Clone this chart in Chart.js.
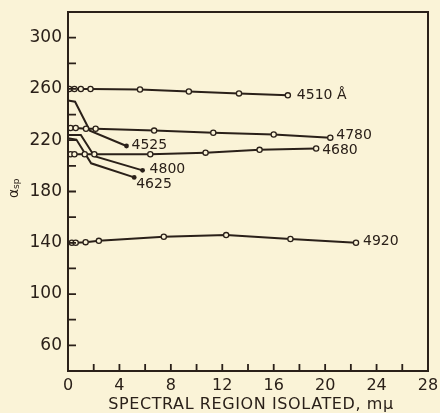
<!DOCTYPE html>
<html>
<head>
<meta charset="utf-8">
<script src="https://cdn.jsdelivr.net/npm/chart.js@4"></script>
<style>
  html, body { margin: 0; padding: 0; background: #faf3d7; }
</style>
</head>
<body>
<canvas id="myChart" width="440" height="413"></canvas>
<script>
// values (x = spectral region isolated, mμ; y = alpha sp)
const x4510 = [0.1, 0.5, 1.0, 1.75, 5.6, 9.4, 13.3, 17.1];
const y4510 = [260, 260, 260, 260, 259.5, 258, 256.5, 255];
const x4780 = [0.2, 0.6, 1.4, 2.15, 6.7, 11.3, 16.0, 20.4];
const y4780 = [229.5, 229.5, 229, 229, 227.5, 225.8, 224.5, 222];
const x4680 = [0.2, 0.5, 1.3, 2.05, 6.4, 10.7, 14.9, 19.3];
const y4680 = [209, 209, 209, 209, 209, 210.3, 212.5, 213.5];
const x4525 = [0, 0.55, 1.7, 4.55];
const y4525 = [251, 250, 227.5, 215.5];
const x4800 = [0, 1.0, 2.05, 5.8];
const y4800 = [224, 224, 207.5, 196.5];
const x4625 = [0, 0.65, 1.8, 5.15];
const y4625 = [221.5, 220.5, 202, 191];
const x4920 = [0.3, 0.6, 1.37, 2.4, 7.45, 12.3, 17.3, 22.4];
const y4920 = [140, 140, 140.5, 141.5, 144.7, 146, 143, 140];

const seriesNames = ["4510 Å", "4780", "4680", "4525", "4800", "4625", "4920"];
const labelOffsets = [[9, 0], [6, -2], [6, 2], [5, -1], [7, -1], [2, 7], [7, -1]];

const ink = "#2a2019";
const paper = "#faf3d7";

function pts(xs, ys) {
  return xs.map((x, i) => ({ x: x, y: ys[i] }));
}

function openSeries(name, xs, ys) {
  return {
    label: name,
    data: pts(xs, ys),
    borderColor: ink,
    backgroundColor: paper,
    borderWidth: 2,
    pointRadius: 2.6,
    pointBorderWidth: 1.3,
    pointBorderColor: ink,
    pointBackgroundColor: paper,
    tension: 0,
  };
}

function dropSeries(name, xs, ys) {
  return {
    label: name,
    data: pts(xs, ys),
    borderColor: ink,
    borderWidth: 2,
    pointRadius: xs.map((_, i) => (i === xs.length - 1 ? 2.4 : 0)),
    pointBorderWidth: 0,
    pointBackgroundColor: ink,
    tension: 0,
  };
}

const data = {
  datasets: [
    openSeries(seriesNames[0], x4510, y4510),
    openSeries(seriesNames[1], x4780, y4780),
    openSeries(seriesNames[2], x4680, y4680),
    dropSeries(seriesNames[3], x4525, y4525),
    dropSeries(seriesNames[4], x4800, y4800),
    dropSeries(seriesNames[5], x4625, y4625),
    openSeries(seriesNames[6], x4920, y4920),
  ],
};

const decor = {
  id: "decor",
  beforeDraw(chart) {
    const ctx = chart.ctx;
    ctx.save();
    ctx.fillStyle = paper;
    ctx.fillRect(0, 0, chart.width, chart.height);
    ctx.restore();
  },
  afterDraw(chart) {
    const ctx = chart.ctx;
    const a = chart.chartArea;
    const xs = chart.scales.x;
    const ys = chart.scales.y;
    ctx.save();
    ctx.strokeStyle = ink;
    ctx.lineWidth = 2;
    ctx.strokeRect(a.left, a.top, a.right - a.left, a.bottom - a.top);

    // inner tick marks
    ctx.lineWidth = 1.8;
    ctx.beginPath();
    ys.ticks.forEach((t) => {
      if (t.value <= ys.min || t.value >= ys.max) return;
      const py = ys.getPixelForValue(t.value);
      ctx.moveTo(a.left, py);
      ctx.lineTo(a.left + 8, py);
    });
    xs.ticks.forEach((t) => {
      if (t.value <= xs.min || t.value >= xs.max) return;
      const px = xs.getPixelForValue(t.value);
      ctx.moveTo(px, a.bottom);
      ctx.lineTo(px, a.bottom - 7);
    });
    ctx.stroke();

    // curve labels
    ctx.fillStyle = ink;
    ctx.font = "14px 'DejaVu Sans'";
    ctx.textBaseline = "middle";
    ctx.textAlign = "left";
    chart.data.datasets.forEach((ds, i) => {
      const last = ds.data[ds.data.length - 1];
      const px = xs.getPixelForValue(last.x) + labelOffsets[i][0];
      const py = ys.getPixelForValue(last.y) + labelOffsets[i][1];
      ctx.fillText(seriesNames[i], px, py);
    });

    // x title
    ctx.font = "16px 'DejaVu Sans'";
    ctx.letterSpacing = "0.6px";
    ctx.textAlign = "center";
    ctx.fillText("SPECTRAL REGION ISOLATED, mμ", (a.left + a.right) / 2 + 3, 405);
    ctx.letterSpacing = "0px";

    // y title: alpha with subscript sp, rotated
    ctx.translate(14, 198);
    ctx.rotate(-Math.PI / 2);
    ctx.textAlign = "left";
    ctx.font = "14px 'DejaVu Sans'";
    ctx.fillText("α", 0, 0);
    ctx.font = "9px 'DejaVu Sans'";
    ctx.fillText("sp", 9, 3);
    ctx.restore();
  },
};

const config = {
  type: "line",
  data: data,
  options: {
    responsive: false,
    animation: false,
    layout: { padding: { top: 12, right: 12, left: 0, bottom: 0 } },
    plugins: { legend: { display: false }, tooltip: { enabled: false } },
    scales: {
      x: {
        type: "linear",
        min: 0,
        max: 28,
        grid: { display: false, drawTicks: false },
        border: { display: false },
        ticks: {
          stepSize: 2,
          autoSkip: false,
          maxRotation: 0,
          padding: 5,
          color: ink,
          font: { family: "DejaVu Sans", size: 16 },
          callback: (v) => (v % 4 === 0 ? v : ""),
        },
        afterFit: (s) => {
          s.height = 42;
          s.paddingLeft = 0;
          s.paddingRight = 0;
        },
      },
      y: {
        type: "linear",
        min: 40,
        max: 320,
        grid: { display: false, drawTicks: false },
        border: { display: false },
        ticks: {
          stepSize: 20,
          autoSkip: false,
          padding: 6,
          color: ink,
          font: { family: "DejaVu Sans", size: 17 },
          callback: (v) => ((v - 60) % 40 === 0 ? v : ""),
        },
        afterFit: (s) => {
          s.width = 68;
          s.paddingTop = 0;
          s.paddingBottom = 0;
        },
      },
    },
  },
  plugins: [decor],
};

const myChart = new Chart(document.getElementById("myChart"), config);
</script>
</body>
</html>
